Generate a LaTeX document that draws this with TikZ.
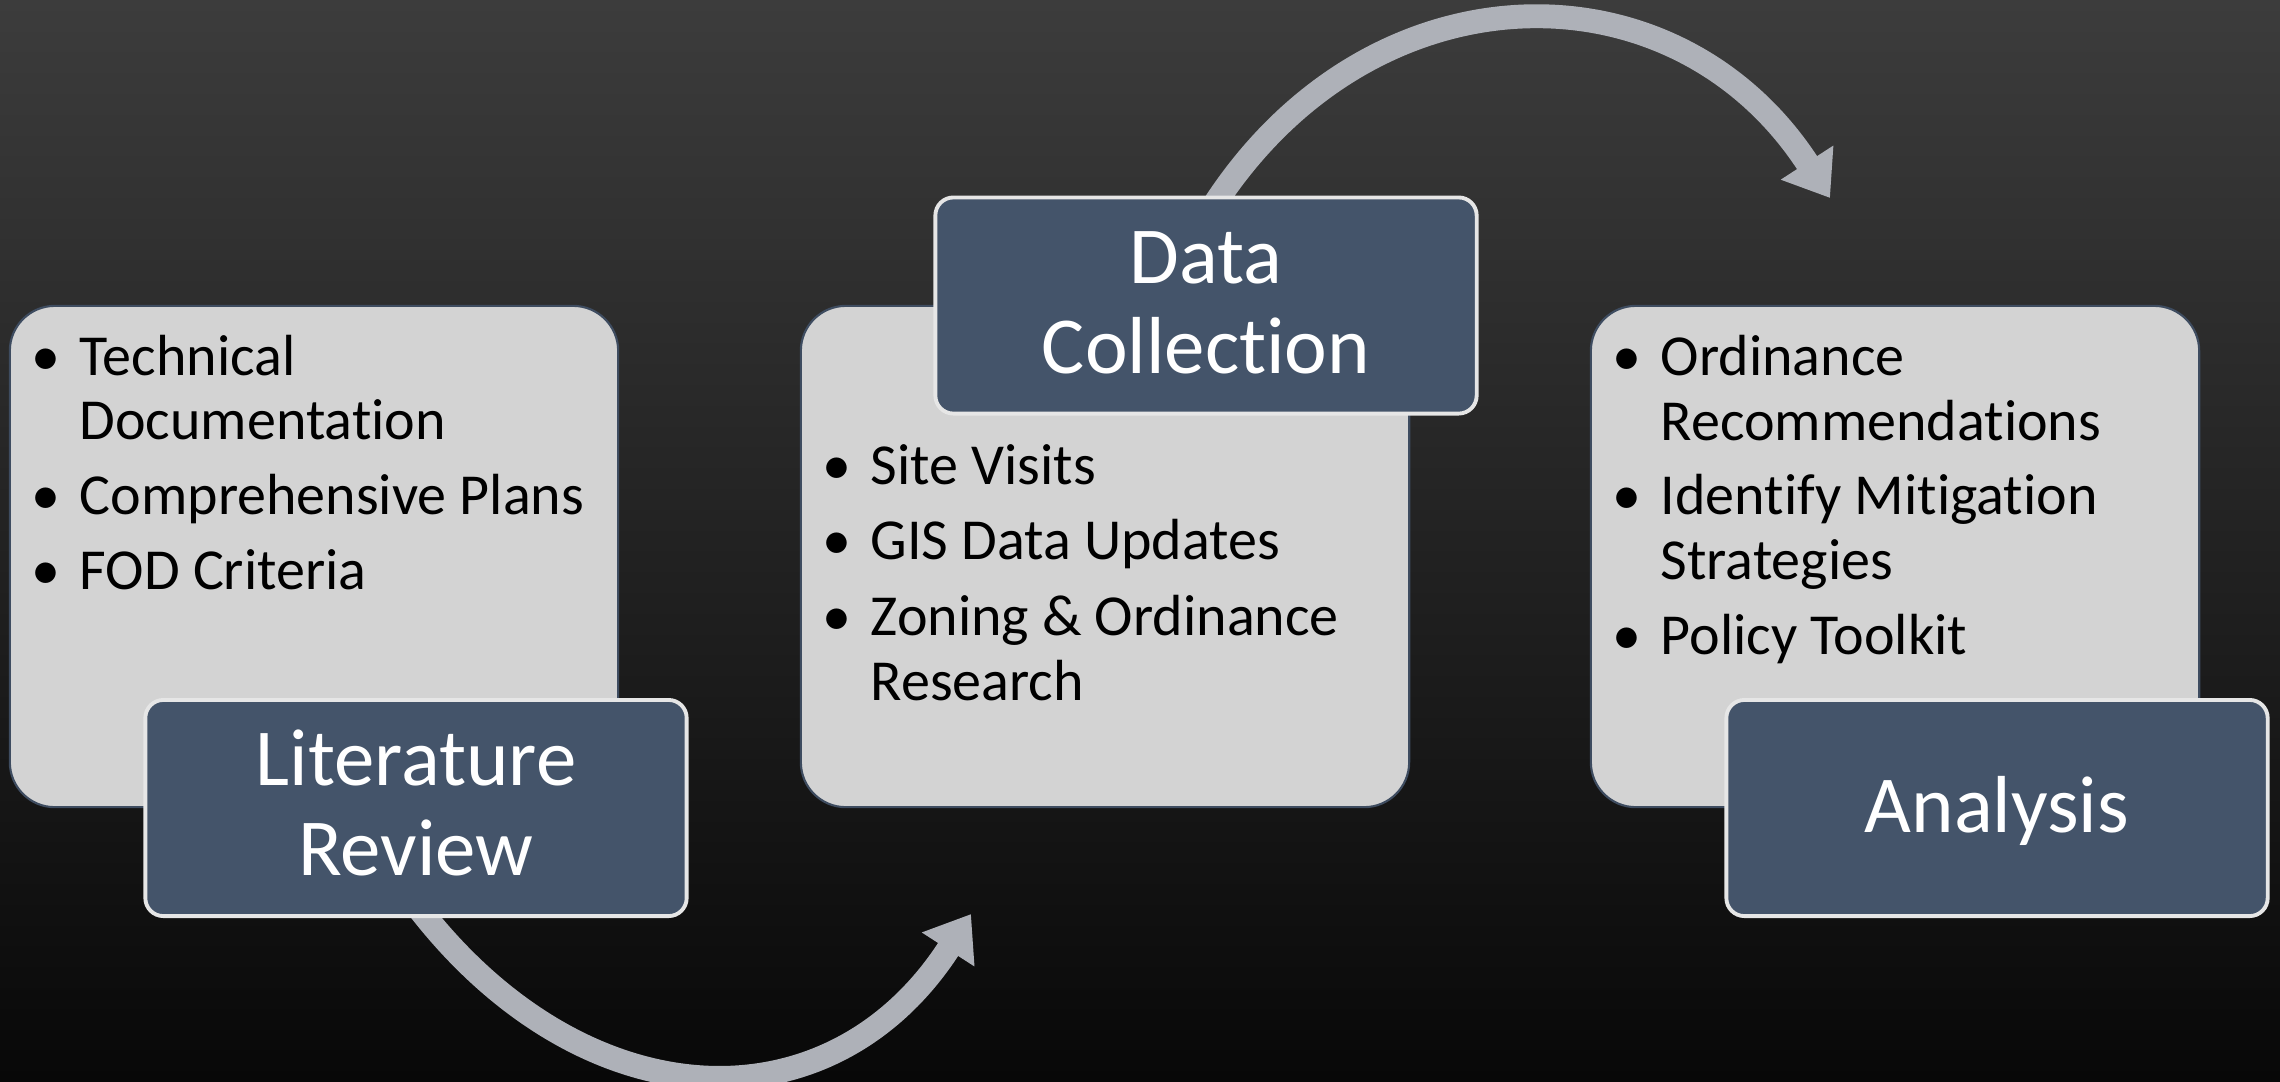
\documentclass[tikz,border=0pt]{standalone}
\usepackage{fontspec}
\setmainfont{Carlito}[RawFeature={-liga;-clig;-calt;-rlig;-dlig}]
\usetikzlibrary{arrows.meta}
\definecolor{bgtop}{HTML}{3C3C3C}
\definecolor{bgbot}{HTML}{080808}
\definecolor{boxgray}{HTML}{D3D3D3}
\definecolor{slate}{HTML}{44546A}
\definecolor{slateedge}{HTML}{3E4C60}
\definecolor{edgelight}{HTML}{E6E6E6}
\definecolor{arrowgray}{HTML}{AEB1B8}
\newcommand{\nl}{\kern0pt }
\begin{document}
\begin{tikzpicture}[x=0.01cm,y=-0.01cm,
 graybox/.style={draw=slateedge, line width=0.6pt, fill=boxgray, rounded corners=0.45cm, minimum width=6.08cm, minimum height=5.01cm, inner sep=0},
 darkbox/.style={draw=edgelight, line width=1.1pt, fill=slate, rounded corners=0.18cm, minimum width=5.41cm, minimum height=2.16cm, inner sep=0},
 bodytxt/.style={font=\fontsize{16.5}{18.5}\selectfont, text=black, inner sep=0, anchor=base west},
 headtxt/.style={font=\fontsize{23}{25.6}\selectfont, text=white, inner sep=0, anchor=base},
 flow/.style={draw=arrowgray, line width=6.8pt, -{Triangle[length=12pt,width=17pt]}},
]
\useasboundingbox (0,0) rectangle (2280,1081);
\clip (0,0) rectangle (2280,1081);
\shade[top color=bgtop, bottom color=bgbot] (0,0) rectangle (2280,1081);

% connectors
\coordinate (a1s) at (414,902);
\coordinate (a1e) at (971,914);
\coordinate (a2s) at (1214,205);
\coordinate (a2e) at (1830,198);
\draw[flow] (a1s) .. controls (580,1122) and (829,1134) .. (a1e);
\draw[flow] (a2s) .. controls (1372,-38) and (1675,-41) .. (a2e);

% boxes
\node[graybox] (g1) at (314,556.5) {};
\node[graybox] (g2) at (1105,556.5) {};
\node[graybox] (g3) at (1895,556.5) {};
\node[darkbox] (lit) at (416,808) {};
\node[darkbox] (data) at (1206,305.5) {};
\node[darkbox] (ana) at (1997,808) {};

% headings
\node[headtxt] (lit1) at (416,785) {Literature};
\node[headtxt] (lit2) at (416,875) {Review};
\node[headtxt] (dat1) at (1206,283) {Data};
\node[headtxt] (dat2) at (1206,373) {Collect\nl ion};
\node[headtxt] (ana1) at (1997,832) {Analysis};

% left list
\node[bodytxt] (lb1) at (31,375) {•};
\node[bodytxt] (lt1) at (79,375) {Technical};
\node[bodytxt] (lt1b) at (79,439) {Documentat\nl ion};
\node[bodytxt] (lb2) at (31,514) {•};
\node[bodytxt] (lt2) at (79,514) {Comprehensive Plans};
\node[bodytxt] (lb3) at (31,589) {•};
\node[bodytxt] (lt3) at (79,589) {FOD Criteria};

% middle list
\node[bodytxt] (mb1) at (822,484) {•};
\node[bodytxt] (mt1) at (870,484) {Site Visits};
\node[bodytxt] (mb2) at (822,559) {•};
\node[bodytxt] (mt2) at (870,559) {GIS Data Updates};
\node[bodytxt] (mb3) at (822,635) {•};
\node[bodytxt] (mt3) at (870,635) {Zoning \& Ordinance};
\node[bodytxt] (mt3b) at (870,700) {Research};

% right list
\node[bodytxt] (rb1) at (1612,375) {•};
\node[bodytxt] (rt1) at (1660,375) {Ordinance};
\node[bodytxt] (rt1b) at (1660,440) {Recommendat\nl ions};
\node[bodytxt] (rb2) at (1612,514) {•};
\node[bodytxt] (rt2) at (1660,514) {Identify Mitigat\nl ion};
\node[bodytxt] (rt2b) at (1660,579) {Strategies};
\node[bodytxt] (rb3) at (1612,654) {•};
\node[bodytxt] (rt3) at (1660,654) {Policy Toolkit};
\end{tikzpicture}
\end{document}
